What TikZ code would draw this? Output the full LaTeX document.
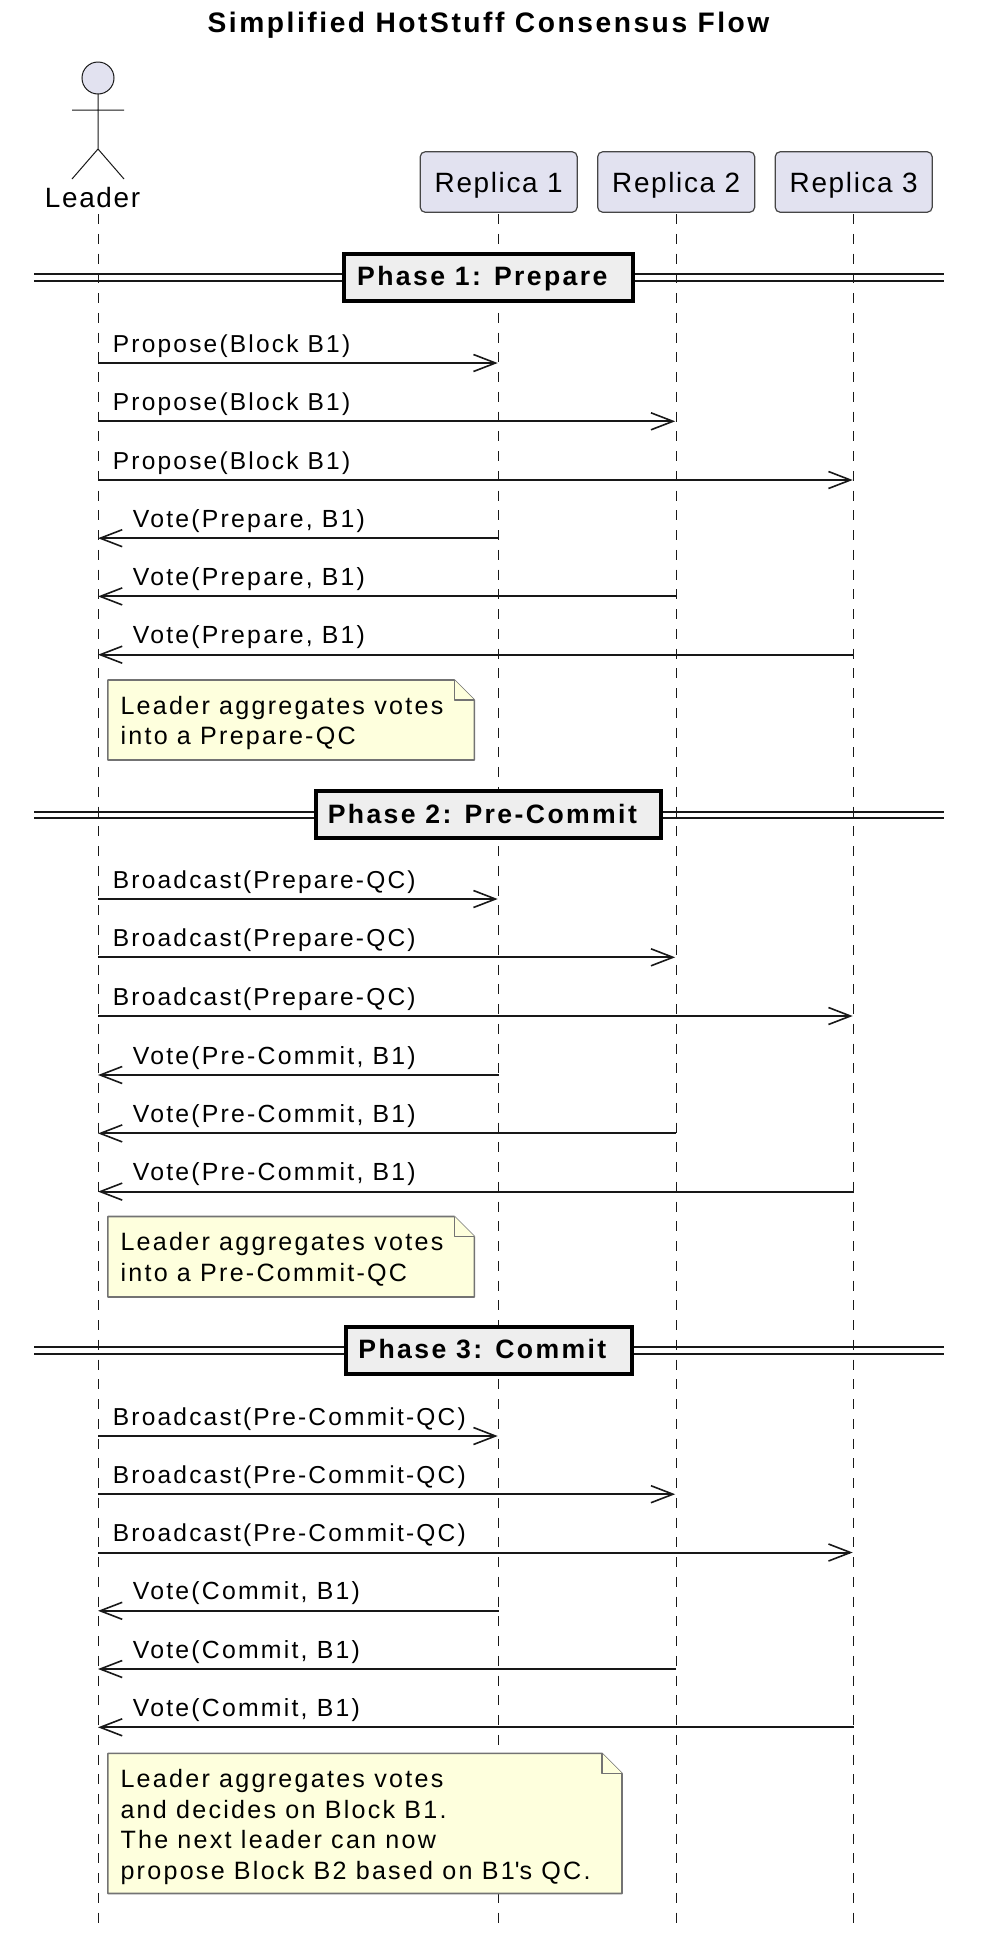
\documentclass[tikz,border=0pt]{standalone}
\usepackage{fontspec}
\setmainfont{Liberation Sans}[LetterSpace=9]
\newfontfamily\partfont{Liberation Sans}[LetterSpace=6]
\usetikzlibrary{arrows.meta}
\definecolor{partfill}{HTML}{E2E2F0}
\definecolor{notefill}{HTML}{FEFFDD}
\definecolor{phasefill}{HTML}{EEEEEE}
\definecolor{partline}{HTML}{181818}
\tikzset{
  part/.style={draw=partline!80,fill=partfill,rounded corners=5pt,line width=1.2pt,minimum width=157pt,minimum height=60.5pt,inner sep=0pt,text height=20pt,text depth=0pt,font=\partfont\fontsize{27.9}{32}\selectfont},
  lifeline/.style={draw=partline,line width=1pt,dash pattern=on 10pt off 9.75pt},
  msgline/.style={draw=partline,line width=2pt,-{Straight Barb[length=22pt,width=17pt,line width=1.6pt]}},
  msglabel/.style={inner sep=0pt,anchor=base west,font=\fontsize{24.5}{30}\selectfont},
  votelabel/.style={msglabel,font=\fontsize{24.8}{30}\selectfont},
  notebox/.style={draw=gray!90!black,fill=notefill,line width=1.6pt,line join=round},
  notetext/.style={inner sep=0pt,anchor=north west,align=left,font=\fontsize{25.1}{30.4}\selectfont},
  phasebox/.style={draw=black,fill=phasefill,line width=4pt,minimum height=47.2pt,inner sep=0pt,text height=19pt,text depth=2.4pt,font=\fontsize{26.6}{30}\selectfont\bfseries},
  phasebar/.style={draw=partline,line width=2pt}
}
% one separator with its two rails
\newcommand{\phaserow}[4]{
\draw[phasebar] (34,#2-3.1) -- (943.5,#2-3.1);
\draw[phasebar] (34,#2+3.1) -- (943.5,#2+3.1);
\node[phasebox,minimum width=#3pt] (#1) at (488.6,#2) {\kern-12.5pt #4};
}
% folded note, x1 y1 x2 y2
\newcommand{\foldnote}[4]{
\draw[notebox] (#1,#2) -- (#3-20,#2) -- (#3,#2+20) -- (#3,#4) -- (#1,#4) -- cycle;
\draw[notebox] (#3-20,#2) -- (#3-20,#2+20) -- (#3,#2+20);
}
\begin{document}
\begin{tikzpicture}[x=1pt,y=-1pt]
\useasboundingbox (0,0) rectangle (984,1944);
\node[inner sep=0pt,anchor=base,font=\fontsize{28.2}{32}\selectfont\bfseries] (title) at (488.5,32.3) {Simplified HotStuff Consensus Flow};

% actor
\filldraw[draw=partline,fill=partfill,line width=1pt] (98,78) circle (16);
\draw[partline,line width=1pt] (98,94) -- (98,149) (72,110) -- (124,110) (72,179) -- (98,149) -- (124,179);
\node[inner sep=0pt,font=\partfont\fontsize{27.9}{32}\selectfont] (leaderlbl) at (92.5,198) {Leader};
\node[part] (r1) at (498.7,182) {Replica 1};
\node[part] (r2) at (676.2,182) {Replica 2};
\node[part] (r3) at (853.7,182) {Replica 3};

% lifelines
\coordinate (leader) at (98,214);
\coordinate (bottom) at (0,1924);
\draw[lifeline] (leader) -- (leader |- bottom);
\foreach \part in {r1,r2,r3}
  \draw[lifeline] (\part |- leader) -- (\part |- bottom);

% phases
\phaserow{phaseA}{277.5}{288.5}{Phase 1: Prepare}
\phaserow{phaseB}{814.7}{345.5}{Phase 2: Pre-Commit}
\phaserow{phaseC}{1350.4}{286}{Phase 3: Commit}

% requests
\foreach \y/\dest/\txt [count=\i] in {
  363/r1/Propose(Block B1),421.3/r2/Propose(Block B1),480/r3/Propose(Block B1),
  899/r1/Broadcast(Prepare-QC),957.3/r2/Broadcast(Prepare-QC),1016/r3/Broadcast(Prepare-QC),
  1436/r1/Broadcast(Pre-Commit-QC),1494.2/r2/Broadcast(Pre-Commit-QC),1552.5/r3/Broadcast(Pre-Commit-QC)} {
  \coordinate (reqa\i) at (leader |- 0,\y);
  \coordinate (reqb\i) at (\dest |- 0,\y);
  \draw[msgline,shorten >=1pt] (reqa\i) -- (reqb\i);
  \node[msglabel] (reqlbl\i) at (112.7,\y-11) {\txt};
}
% votes
\foreach \y/\src/\txt [count=\i] in {
  538.2/r1/{Vote(Prepare, B1)},596.4/r2/{Vote(Prepare, B1)},654.7/r3/{Vote(Prepare, B1)},
  1075/r1/{Vote(Pre-Commit, B1)},1133.4/r2/{Vote(Pre-Commit, B1)},1191.6/r3/{Vote(Pre-Commit, B1)},
  1610.8/r1/{Vote(Commit, B1)},1669/r2/{Vote(Commit, B1)},1727.3/r3/{Vote(Commit, B1)}} {
  \coordinate (votea\i) at (\src |- 0,\y);
  \coordinate (voteb\i) at (leader |- 0,\y);
  \draw[msgline] (votea\i) -- (voteb\i);
  \node[votelabel] (votelbl\i) at (132.7,\y-11) {\txt};
}

% notes
\foldnote{107.9}{680}{474.3}{760}
\node[notetext] (noteA) at (120.3,696) {Leader aggregates votes\\into a Prepare-QC};
\foldnote{107.9}{1216.5}{474.3}{1297}
\node[notetext] (noteB) at (120.3,1232.5) {Leader aggregates votes\\into a Pre-Commit-QC};
\foldnote{107.9}{1753.4}{622}{1893.5}
\node[notetext] (noteC) at (120.3,1769.4) {Leader aggregates votes\\and decides on Block B1.\\The next leader can now\\propose Block B2 based on B1\textquotesingle s QC.};
\end{tikzpicture}
\end{document}
